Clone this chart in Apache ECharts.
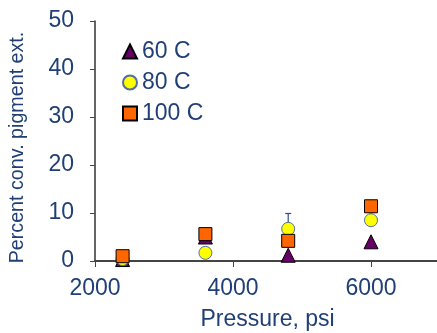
<!DOCTYPE html>
<html>
<head>
<meta charset="utf-8">
<script src="https://cdn.jsdelivr.net/npm/echarts@6/dist/echarts.min.js"></script>
<style>
  html, body { margin: 0; padding: 0; background: #fff; }
  #chart { width: 437px; height: 333px; }
</style>
</head>
<body>
<div id="chart"></div>
<script>
// Pressure levels (psi) and percent conversion of pigment extraction per temperature
const pressures = [2400, 3600, 4800, 6000];
const temp60 = [0.3, 5.0, 1.2, 4.0];
const temp80 = [0.4, 1.7, 6.7, 8.5];
const temp100 = [1.0, 5.6, 4.2, 11.4];
// Upper error bar on the 80 C run at 4800 psi
const errPressure = [4800];
const errLow = [6.7];
const errHigh = [9.9];

const textColor = '#1f3f75';
const font = 'Liberation Sans, Arial, sans-serif';

const chart = echarts.init(document.getElementById('chart'), null, { renderer: 'canvas' });

const pairs = (xs, ys) => xs.map((x, i) => [x, ys[i]]);

chart.setOption({
  animation: false,
  grid: { left: 95, right: -3, top: 21, bottom: 72, containLabel: false, outerBoundsMode: 'none' },
  legend: {
    orient: 'vertical',
    left: 117,
    top: 35,
    itemWidth: 14,
    itemHeight: 14,
    itemGap: 8,
    textStyle: { color: textColor, fontSize: 23, fontFamily: font },
    data: ['60 C', '80 C', '100 C']
  },
  xAxis: {
    type: 'value',
    min: 2000,
    max: 7000,
    interval: 2000,
    name: 'Pressure, psi',
    nameLocation: 'middle',
    nameGap: 47,
    nameTextStyle: { color: textColor, fontSize: 23, fontFamily: font },
    axisLine: { lineStyle: { color: '#444', width: 2 } },
    axisTick: { length: 6, lineStyle: { color: '#444', width: 1 } },
    axisLabel: {
      color: textColor, fontSize: 23, fontFamily: font, margin: 16,
      showMaxLabel: false,
      formatter: v => String(v)
    },
    splitLine: { show: false }
  },
  yAxis: {
    type: 'value',
    min: 0,
    max: 50,
    interval: 10,
    name: 'Percent conv. pigment ext.',
    nameLocation: 'middle',
    nameGap: 67,
    nameTextStyle: { color: textColor, fontSize: 19.7, fontFamily: font, padding: [0, 13, 0, 0] },
    axisLine: { show: true, lineStyle: { color: '#333', width: 1.5 } },
    axisTick: { show: true, length: 5, lineStyle: { color: '#444' } },
    axisLabel: { color: textColor, fontSize: 23, fontFamily: font, margin: 21 },
    splitLine: { show: false }
  },
  series: [
    {
      name: '60 C',
      type: 'scatter',
      symbol: 'triangle',
      symbolSize: 14,
      itemStyle: { color: '#660066', borderColor: '#000', borderWidth: 1, opacity: 1 },
      data: pairs(pressures, temp60),
      z: 2
    },
    {
      name: 'err',
      type: 'custom',
      data: errPressure.map((x, i) => [x, errLow[i], errHigh[i]]),
      renderItem: function (params, api) {
        const p0 = api.coord([api.value(0), api.value(1)]);
        const p1 = api.coord([api.value(0), api.value(2)]);
        const style = { stroke: '#2f4f8f', lineWidth: 1.2 };
        return {
          type: 'group',
          children: [
            { type: 'line', shape: { x1: p0[0], y1: p0[1], x2: p1[0], y2: p1[1] }, style },
            { type: 'line', shape: { x1: p1[0] - 3, y1: p1[1], x2: p1[0] + 3, y2: p1[1] }, style }
          ]
        };
      },
      z: 3
    },
    {
      name: '80 C',
      type: 'scatter',
      symbol: 'circle',
      symbolSize: 13,
      itemStyle: { color: '#ffff00', borderColor: '#4f6f9f', borderWidth: 1, opacity: 1 },
      data: pairs(pressures, temp80),
      z: 4
    },
    {
      name: '100 C',
      type: 'scatter',
      symbol: 'rect',
      symbolSize: 13,
      itemStyle: { color: '#ff6600', borderColor: '#000', borderWidth: 1, opacity: 1 },
      data: pairs(pressures, temp100),
      z: 5
    }
  ]
});
</script>
</body>
</html>
